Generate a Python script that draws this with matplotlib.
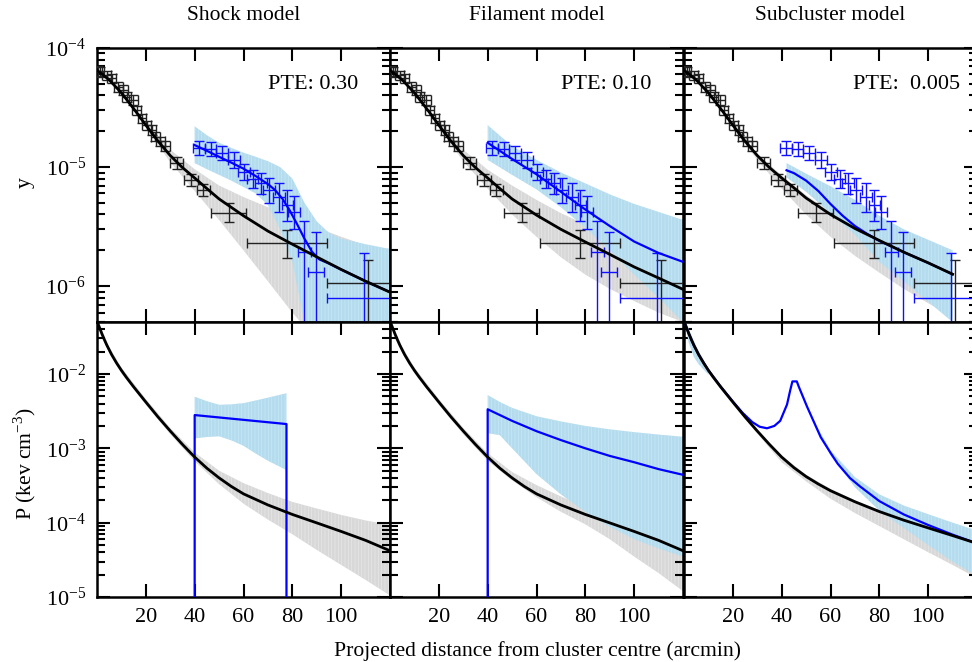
import numpy as np
import matplotlib
matplotlib.use('Agg')
import matplotlib.pyplot as plt
from matplotlib.ticker import LogLocator, FuncFormatter, NullFormatter

plt.rcParams['font.family'] = ['Liberation Serif', 'DejaVu Serif']
plt.rcParams['mathtext.fontset'] = 'custom'
plt.rcParams['mathtext.rm'] = 'Liberation Serif'
plt.rcParams['hatch.linewidth'] = 0.5

titles = ['Shock model', 'Filament model', 'Subcluster model']
pte_labels = ['PTE: 0.30', 'PTE: 0.10', 'PTE:  0.005']
pte_xpos = [107, 107, 113]

# ---- top row: SZ y profile data (same in every panel) ----
blk_x = [0.4, 1.2, 4.0, 6.0, 8.7, 10.8, 12.2, 14.9, 16.3, 18.4, 20.4, 22.5, 23.8, 25.9, 27.9,
         32.7, 38.5, 43.5, 53.9, 77.9, 110.8]
blk_y = [6.4e-5, 6.3e-5, 5.9e-5, 5.6e-5, 4.7e-5, 4.45e-5, 3.9e-5, 3.65e-5, 3.0e-5, 2.56e-5,
         2.25e-5, 2.05e-5, 1.8e-5, 1.64e-5, 1.5e-5, 1.09e-5, 7.8e-6, 6.4e-6, 4.1e-6, 2.29e-6, 1.06e-6]
blk_xerr = [1.8, 1.8, 1.8, 1.8, 1.8, 1.8, 1.8, 1.8, 1.8, 1.8, 1.8, 1.8, 1.8, 1.8, 1.8,
            2.7, 2.7, 2.7, 7.2, 16.4, 16.5]
blk_ylo = [5.85e-5, 5.75e-5, 5.4e-5, 5.1e-5, 4.3e-5, 4.05e-5, 3.55e-5, 3.33e-5, 2.74e-5, 2.34e-5,
           2.05e-5, 1.87e-5, 1.64e-5, 1.5e-5, 1.37e-5, 9.7e-6, 6.95e-6, 5.7e-6, 3.48e-6, 1.71e-6, 1e-8]
blk_yhi = [7.0e-5, 6.9e-5, 6.45e-5, 6.1e-5, 5.15e-5, 4.85e-5, 4.25e-5, 4.0e-5, 3.28e-5, 2.8e-5,
           2.46e-5, 2.24e-5, 1.97e-5, 1.79e-5, 1.64e-5, 1.22e-5, 8.75e-6, 7.2e-6, 4.97e-6, 2.97e-6, 1.66e-6]

blu_x = [41.8, 46.5, 51.3, 56.1, 60.2, 63.7, 67.1, 70.5, 74.6, 78.0, 80.8, 84.9, 89.7, 109.5]
blu_y = [1.44e-5, 1.41e-5, 1.31e-5, 1.15e-5, 9.1e-6, 8.0e-6, 7.3e-6, 6.4e-6, 5.6e-6, 4.8e-6, 4.2e-6,
         1.95e-6, 1.32e-6, 7.9e-7]
blu_xerr = [2.4, 2.4, 2.4, 2.4, 2.4, 2.4, 2.4, 2.4, 2.4, 2.4, 2.4, 2.7, 3.4, 15.5]
blu_ylo = [1.26e-5, 1.24e-5, 1.15e-5, 9.9e-6, 7.8e-6, 6.7e-6, 5.9e-6, 5.0e-6, 4.2e-6, 3.5e-6, 3.0e-6,
           1e-8, 1e-8, 1e-8]
blu_yhi = [1.64e-5, 1.61e-5, 1.5e-5, 1.34e-5, 1.07e-5, 9.5e-6, 8.9e-6, 8.1e-6, 7.3e-6, 6.4e-6, 5.7e-6,
           3.5e-6, 2.87e-6, 1.89e-6]

# ---- top row: models ----
ymod_x = [0, 5, 10, 15, 20, 25, 30, 35, 40, 45, 50, 60, 70, 80, 90, 100, 110, 120]
shock_ymod_blk = [6.5e-5, 5.4e-5, 4.2e-5, 3.1e-5, 2.25e-5, 1.65e-5, 1.25e-5, 9.9e-6, 8.1e-6, 6.6e-6,
                  5.4e-6, 3.9e-6, 2.9e-6, 2.25e-6, 1.76e-6, 1.38e-6, 1.1e-6, 8.9e-7]
fil_ymod_blk = [6.5e-5, 5.4e-5, 4.2e-5, 3.1e-5, 2.25e-5, 1.65e-5, 1.25e-5, 9.9e-6, 8.1e-6, 6.6e-6,
                5.4e-6, 3.95e-6, 3.0e-6, 2.35e-6, 1.85e-6, 1.45e-6, 1.17e-6, 9.4e-7]
sub_ymod_blk = [6.5e-5, 5.4e-5, 4.2e-5, 3.1e-5, 2.25e-5, 1.65e-5, 1.25e-5, 9.9e-6, 8.1e-6, 6.7e-6,
                5.5e-6, 4.0e-6, 3.05e-6, 2.42e-6, 1.93e-6, 1.57e-6, 1.26e-6]

ygrey_x = [20, 30, 40, 50, 60, 70, 80, 90, 100, 110, 120]
shock_ygrey_hi = [2.3e-5, 1.4e-5, 9.6e-6, 7.0e-6, 5.6e-6, 4.6e-6, 3.8e-6, 3.1e-6, 2.6e-6, 2.2e-6, 1.9e-6]
shock_ygrey_lo = [2.15e-5, 1.1e-5, 6.3e-6, 3.6e-6, 2.0e-6, 1.1e-6, 6.0e-7, 3.5e-7, 3e-7, 3e-7, 3e-7]
fil_ygrey_hi = [2.3e-5, 1.4e-5, 9.5e-6, 7.0e-6, 5.3e-6, 4.1e-6, 3.3e-6, 2.7e-6, 2.2e-6, 1.85e-6, 1.6e-6]
fil_ygrey_lo = [2.15e-5, 1.12e-5, 6.6e-6, 4.0e-6, 2.6e-6, 1.75e-6, 1.25e-6, 9.5e-7, 7.5e-7, 6.0e-7, 5.0e-7]
sub_ygrey_hi = [2.3e-5, 1.3e-5, 8.5e-6, 5.8e-6, 4.2e-6, 3.2e-6, 2.55e-6, 2.05e-6, 1.65e-6, 1.32e-6]
sub_ygrey_lo = [2.15e-5, 1.15e-5, 6.6e-6, 4.0e-6, 2.6e-6, 1.8e-6, 1.3e-6, 9.5e-7, 7.2e-7, 5.5e-7]

shock_yblu_x = [40, 45, 50, 55, 60, 65, 70, 73, 76, 79, 82, 85, 88, 91, 95, 100, 110, 120]
shock_yblu = [1.53e-5, 1.37e-5, 1.22e-5, 1.09e-5, 9.7e-6, 8.4e-6, 7.2e-6, 6.4e-6, 5.4e-6, 4.3e-6,
              3.3e-6, 2.5e-6, 1.95e-6, 1.68e-6, 1.55e-6, 1.38e-6, 1.1e-6, 8.9e-7]
shock_yband_x = [40, 45, 50, 55, 60, 65, 70, 75, 80, 85, 90, 95, 100, 110, 120]
shock_yband_hi = [2.2e-5, 1.85e-5, 1.6e-5, 1.45e-5, 1.32e-5, 1.22e-5, 1.12e-5, 1.0e-5, 8.0e-6,
                  5.0e-6, 3.5e-6, 2.8e-6, 2.5e-6, 2.25e-6, 2.05e-6]
shock_yband_lo = [1.08e-5, 9.6e-6, 8.6e-6, 7.7e-6, 6.8e-6, 6.0e-6, 4.8e-6, 3.0e-6, 1.6e-6,
                  5e-7, 3e-7, 3e-7, 3e-7, 3e-7, 3e-7]

fil_yblu_x = [40, 50, 60, 70, 80, 90, 100, 110, 120]
fil_yblu = [1.6e-5, 1.17e-5, 8.7e-6, 6.2e-6, 4.4e-6, 3.2e-6, 2.37e-6, 1.9e-6, 1.6e-6]
fil_yband_x = [40, 50, 60, 70, 80, 90, 100, 110, 120]
fil_yband_hi = [2.25e-5, 1.5e-5, 1.15e-5, 9.0e-6, 7.3e-6, 5.9e-6, 4.9e-6, 4.2e-6, 3.6e-6]
fil_yband_lo = [1.15e-5, 8.6e-6, 6.5e-6, 4.6e-6, 3.1e-6, 2.0e-6, 1.25e-6, 8.0e-7, 5.0e-7]

sub_yblu_x = [42, 45, 50, 55, 60, 65, 70, 75, 80, 90, 100, 110]
sub_yblu = [9.4e-6, 8.9e-6, 7.7e-6, 6.3e-6, 4.9e-6, 3.9e-6, 3.2e-6, 2.75e-6, 2.4e-6, 1.93e-6, 1.57e-6, 1.26e-6]
sub_yband_x = [42, 50, 60, 70, 80, 90, 100, 110]
sub_yband_hi = [1.08e-5, 8.8e-6, 6.9e-6, 5.3e-6, 3.9e-6, 3.0e-6, 2.45e-6, 2.0e-6]
sub_yband_lo = [8.2e-6, 6.2e-6, 4.1e-6, 2.7e-6, 1.6e-6, 1.1e-6, 7.4e-7, 5e-7]

# ---- bottom row: pressure profiles ----
pmod_x = [0, 1, 2, 3, 4, 6, 8, 10, 12, 15, 20, 25, 30, 35, 40, 45, 50, 55, 60, 70, 80, 90, 100, 110, 120]
p_blk = [0.0513, 0.0422, 0.0347, 0.029, 0.0245, 0.0182, 0.01406, 0.01117, 9.04e-3, 6.71e-3, 4.19e-3,
         2.64e-3, 1.71e-3, 1.127e-3, 7.62e-4, 5.4e-4, 4.0e-4, 3.07e-4, 2.44e-4, 1.73e-4, 1.29e-4,
         9.93e-5, 7.62e-5, 5.78e-5, 4.19e-5]
sub_p_blk = [0.0513, 0.0422, 0.0347, 0.029, 0.0245, 0.0182, 0.01406, 0.01117, 9.04e-3, 6.71e-3, 4.19e-3,
             2.64e-3, 1.71e-3, 1.127e-3, 7.62e-4, 5.5e-4, 4.17e-4, 3.31e-4, 2.69e-4, 1.91e-4, 1.41e-4,
             1.08e-4, 8.5e-5, 6.7e-5, 5.25e-5]

pgrey_x = [0.5, 5, 10, 20, 30, 40, 50, 60, 70, 80, 90, 100, 110, 120]
shock_pgrey_hi = [0.052, 0.023, 0.0122, 4.6e-3, 1.88e-3, 8.8e-4, 5.0e-4, 3.4e-4, 2.5e-4, 1.9e-4, 1.55e-4,
                  1.27e-4, 1.07e-4, 9.3e-5]
shock_pgrey_lo = [0.045, 0.019, 0.0102, 3.85e-3, 1.55e-3, 6.7e-4, 3.3e-4, 1.8e-4, 1.1e-4, 7e-5, 4.3e-5,
                  2.7e-5, 1.7e-5, 1.05e-5]
fil_pgrey_hi = [0.052, 0.023, 0.0122, 4.6e-3, 1.88e-3, 8.6e-4, 4.8e-4, 3.2e-4, 2.25e-4, 1.65e-4, 1.25e-4,
                9.5e-5, 7.5e-5, 6e-5]
fil_pgrey_lo = [0.045, 0.019, 0.0102, 3.85e-3, 1.55e-3, 6.8e-4, 3.7e-4, 2.2e-4, 1.4e-4, 9.5e-5, 6.0e-5,
                3.5e-5, 2.1e-5, 1.2e-5]
sub_pgrey_hi = [0.052, 0.023, 0.0119, 4.45e-3, 1.8e-3, 8.0e-4, 4.4e-4, 2.85e-4, 2.0e-4, 1.48e-4, 1.13e-4,
                8.9e-5, 7.0e-5, 5.5e-5]
sub_pgrey_lo = [0.045, 0.019, 0.0102, 3.9e-3, 1.58e-3, 6.5e-4, 3.6e-4, 2.1e-4, 1.35e-4, 9e-5, 6e-5,
                4e-5, 2.7e-5, 1.8e-5]

shock_pblu_x = [40, 40, 77.6, 77.6]
shock_pblu = [1e-7, 2.8e-3, 2.12e-3, 1e-7]
shock_pband_x = [40, 45, 50, 55, 60, 65, 70, 77.6]
shock_pband_hi = [4.95e-3, 4.3e-3, 3.85e-3, 3.9e-3, 4.05e-3, 4.4e-3, 4.8e-3, 5.5e-3]
shock_pband_lo = [1.36e-3, 1.42e-3, 1.45e-3, 1.28e-3, 1.08e-3, 8.5e-4, 6.8e-4, 5.1e-4]

fil_pblu_x = [40, 40, 50, 60, 70, 80, 90, 100, 110, 120]
fil_pblu = [1e-7, 3.35e-3, 2.34e-3, 1.70e-3, 1.29e-3, 1.0e-3, 7.9e-4, 6.5e-4, 5.25e-4, 4.4e-4]
fil_pband_x = [40, 45, 50, 60, 70, 80, 90, 100, 110, 120]
fil_pband_hi = [5.2e-3, 4.2e-3, 3.5e-3, 2.7e-3, 2.3e-3, 2.0e-3, 1.8e-3, 1.65e-3, 1.53e-3, 1.43e-3]
fil_pband_lo = [1.6e-3, 1.5e-3, 1.0e-3, 4.5e-4, 2.4e-4, 1.4e-4, 8.8e-5, 6.0e-5, 4.5e-5, 3.5e-5]

sub_pblu_x = [0, 2, 4, 6, 10, 15, 20, 24, 28, 31, 34, 37, 39.4, 42.2, 43.5, 44.4, 46.2, 47, 50.4, 53, 56,
              60, 63, 68, 72, 80, 90, 100, 110, 120]
sub_pblu = [0.0513, 0.0347, 0.0245, 0.0182, 0.0112, 6.76e-3, 4.27e-3, 3.0e-3, 2.25e-3, 1.95e-3, 1.86e-3,
            2.0e-3, 2.34e-3, 3.89e-3, 6.03e-3, 7.94e-3, 7.94e-3, 6.76e-3, 3.63e-3, 2.34e-3, 1.41e-3,
            8.7e-4, 6.17e-4, 3.98e-4, 3.09e-4, 1.95e-4, 1.29e-4, 9.3e-5, 6.9e-5, 5.25e-5]
sub_pband1_x = [0.5, 2, 4, 6, 8, 10]
sub_pband1_hi = [0.05, 0.04, 0.028, 0.02, 0.0155, 0.0118]
sub_pband1_lo = [0.045, 0.026, 0.017, 0.0135, 0.0115, 0.0098]
sub_pband2_x = [53, 60, 70, 80, 90, 100, 110, 120]
sub_pband2_hi = [2.4e-3, 9.4e-4, 4.1e-4, 2.4e-4, 1.7e-4, 1.3e-4, 1.0e-4, 7.8e-5]
sub_pband2_lo = [2.3e-3, 8.0e-4, 3.0e-4, 1.45e-4, 8.5e-5, 5.0e-5, 3.0e-5, 1.9e-5]

BAND_BLUE = '#b4dcee'
BAND_GREY = '#d8d8d8'


def band(ax, x, lo, hi, color, stripe):
    ax.fill_between(x, lo, hi, facecolor=color, edgecolor=stripe, hatch='|||||',
                    linewidth=0, zorder=1 if color == BAND_GREY else 2)


def log_label(v, pos):
    return r'$\mathregular{10^{%d}}$' % int(round(np.log10(v)))


def style(ax, ylim, show_x, show_y):
    ax.set_yscale('log')
    ax.set_xlim(0, 120)
    ax.set_ylim(*ylim)
    ax.set_xticks([20, 40, 60, 80, 100])
    ax.yaxis.set_major_locator(LogLocator(base=10, numticks=10))
    ax.yaxis.set_minor_locator(LogLocator(base=10, subs=np.arange(2, 10), numticks=20))
    ax.yaxis.set_minor_formatter(NullFormatter())
    ax.tick_params(which='both', direction='in', top=True, right=True, width=1.5, labelsize=16, pad=8)
    ax.tick_params(which='major', length=9.5)
    ax.tick_params(which='minor', length=6)
    if show_y:
        ax.yaxis.set_major_formatter(FuncFormatter(log_label))
    else:
        ax.yaxis.set_major_formatter(NullFormatter())
    if not show_x:
        ax.set_xticklabels([])
    for s in ax.spines.values():
        s.set_linewidth(1.8)


fig = plt.figure(figsize=(9.72, 6.62), dpi=100)
lefts = [97, 390, 684]
W = 293

top_models = [
    (ymod_x, shock_ymod_blk, ygrey_x, shock_ygrey_lo, shock_ygrey_hi,
     shock_yblu_x, shock_yblu, shock_yband_x, shock_yband_lo, shock_yband_hi),
    (ymod_x, fil_ymod_blk, ygrey_x, fil_ygrey_lo, fil_ygrey_hi,
     fil_yblu_x, fil_yblu, fil_yband_x, fil_yband_lo, fil_yband_hi),
    (ymod_x[:-1], sub_ymod_blk, ygrey_x[:-1], sub_ygrey_lo, sub_ygrey_hi,
     sub_yblu_x, sub_yblu, sub_yband_x, sub_yband_lo, sub_yband_hi),
]
bot_models = [
    (p_blk, shock_pgrey_lo, shock_pgrey_hi, shock_pblu_x, shock_pblu,
     [(shock_pband_x, shock_pband_lo, shock_pband_hi)]),
    (p_blk, fil_pgrey_lo, fil_pgrey_hi, fil_pblu_x, fil_pblu,
     [(fil_pband_x, fil_pband_lo, fil_pband_hi)]),
    (sub_p_blk, sub_pgrey_lo, sub_pgrey_hi, sub_pblu_x, sub_pblu,
     [(sub_pband1_x, sub_pband1_lo, sub_pband1_hi), (sub_pband2_x, sub_pband2_lo, sub_pband2_hi)]),
]

for col in range(3):
    axt = fig.add_axes([lefts[col] / 972, 1 - 322 / 662, W / 972, 274 / 662])
    axb = fig.add_axes([lefts[col] / 972, 1 - 597 / 662, W / 972, 275 / 662])

    # top: y profile
    mx, mblk, gx, glo, ghi, bx, by, bbx, bblo, bbhi = top_models[col]
    band(axt, gx, glo, ghi, BAND_GREY, '#e8e8e8')
    band(axt, bbx, bblo, bbhi, BAND_BLUE, '#c8e8f5')
    by_arr = np.array(blk_y)
    axt.errorbar(blk_x, blk_y, xerr=blk_xerr,
                 yerr=[by_arr - np.array(blk_ylo), np.array(blk_yhi) - by_arr],
                 fmt='none', ecolor='#222222', elinewidth=1.0, capsize=3.8, capthick=1.0, zorder=3)
    uy_arr = np.array(blu_y)
    axt.errorbar(blu_x, blu_y, xerr=blu_xerr,
                 yerr=[uy_arr - np.array(blu_ylo), np.array(blu_yhi) - uy_arr],
                 fmt='none', ecolor='#1010ff', elinewidth=1.0, capsize=3.8, capthick=1.0, zorder=4)
    axt.plot(bx, by, color='#0000ff', lw=1.6, zorder=5)
    axt.plot(mx, mblk, color='black', lw=2.0, zorder=6)
    style(axt, (5e-7, 1e-4), False, col == 0)
    axt.text(pte_xpos[col] / 120, 0.865, pte_labels[col], transform=axt.transAxes,
             ha='right', va='center', fontsize=16)

    # bottom: pressure profile
    pblk, pglo, pghi, pbx, pby, pbands = bot_models[col]
    band(axb, pgrey_x, pglo, pghi, BAND_GREY, '#e8e8e8')
    for bx_, blo_, bhi_ in pbands:
        band(axb, bx_, blo_, bhi_, BAND_BLUE, '#c8e8f5')
    axb.plot(pbx, pby, color='#0000ff', lw=1.6, zorder=5)
    axb.plot(pmod_x, pblk, color='black', lw=2.0, zorder=6)
    style(axb, (1e-5, 0.05), True, col == 0)

    fig.text((lefts[col] + W / 2) / 972, 1 - 16 / 662, titles[col], ha='center', va='center', fontsize=15.5)

fig.text(25 / 972, 1 - 183 / 662, 'y', rotation=90, ha='center', va='center', fontsize=15.6)
fig.text(25 / 972, 1 - 464 / 662, r'P (kev cm$^{\mathregular{-3}}$)', rotation=90,
         ha='center', va='center', fontsize=15.6)
fig.text(537 / 972, 1 - 651 / 662, 'Projected distance from cluster centre (arcmin)',
         ha='center', va='center', fontsize=15.6)

fig.savefig('out.png', dpi=100)
